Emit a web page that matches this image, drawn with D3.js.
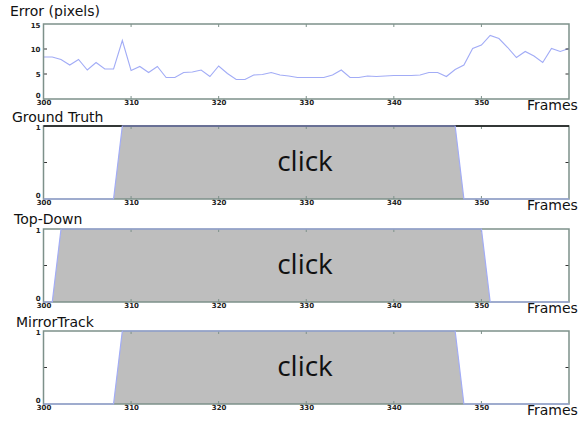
<!DOCTYPE html>
<html>
<head>
<meta charset="utf-8">
<script src="https://d3js.org/d3.v7.min.js"></script>
<style>
    body { margin:0; background:white; }
    .title { font-family:"DejaVu Sans"; font-size:14px; fill:#111; }
    .tick text { font-family:"DejaVu Sans"; font-size:7px; font-weight:bold; fill:#222; }
    .click { font-family:"Open Sans"; font-size:28px; fill:#111; text-anchor:middle; }
</style>
</head>
<body>
<script>
// error per frame, frames 300..360
var errFrames = d3.range(300, 361);
var errVals = [8.4, 8.4, 7.9, 6.8, 7.9, 5.8, 7.3, 6.0, 6.0, 11.7,
               5.7, 6.5, 5.3, 6.5, 4.3, 4.3, 5.3, 5.4, 5.8, 4.5,
               6.6, 5.1, 3.9, 3.9, 4.8, 4.9, 5.3, 4.8, 4.6, 4.3,
               4.3, 4.3, 4.3, 4.8, 5.8, 4.3, 4.3, 4.6, 4.5, 4.6,
               4.7, 4.7, 4.7, 4.8, 5.3, 5.3, 4.5, 5.9, 6.8, 10.1,
               10.8, 12.7, 12.1, 10.3, 8.3, 9.5, 8.6, 7.3, 10.1, 9.5, 10.1];
var errTicks = [0, 5, 10, 15];

// click state (keypoints)
var gtFrames = [300, 308, 309, 347, 348, 360];
var gtVals   = [0, 0, 1, 1, 0, 0];
var tdFrames = [300, 301, 302, 350, 351, 360];
var tdVals   = [0, 0, 1, 1, 0, 0];
var mtFrames = [300, 308, 309, 347, 348, 360];
var mtVals   = [0, 0, 1, 1, 0, 0];

var xTicks = [300, 310, 320, 330, 340, 350];
var titles = ["Error (pixels)", "Ground Truth", "Top-Down", "MirrorTrack"];

var W = 579, H = 422;
var svg = d3.select("body").append("svg").attr("width", W).attr("height", H);

var x = d3.scaleLinear().domain([300, 360]).range([43.5, 569]);
var lineCol = "#a2acf6", boxCol = "#7d918a";

var panels = [
    {top:24, bottom:99, tb:16, tx:10},
    {top:126, bottom:199, tb:122, tx:12},
    {top:229, bottom:302, tb:224, tx:14},
    {top:331, bottom:404, tb:327, tx:16}
];

function frame(g, y, yTickVals, yLabelVals, topCol) {
    // ticks inside
    var xIn = xTicks.filter(function(d){ return d > 300; });
    g.append("g").selectAll("line").data(xIn).enter().append("line")
        .attr("x1", x).attr("x2", x)
        .attr("y1", y.range()[1]).attr("y2", y.range()[1] + 3)
        .attr("stroke", boxCol).attr("stroke-width", 1);
    g.append("g").selectAll("line").data(xIn).enter().append("line")
        .attr("x1", x).attr("x2", x)
        .attr("y1", y.range()[0]).attr("y2", y.range()[0] - 3)
        .attr("stroke", boxCol).attr("stroke-width", 1);
    var yIn = yTickVals.filter(function(d){ return d > y.domain()[0] && d < y.domain()[1]; });
    g.append("g").selectAll("line").data(yIn).enter().append("line")
        .attr("x1", 43.5).attr("x2", 47).attr("y1", y).attr("y2", y)
        .attr("stroke", "#333").attr("stroke-width", 1);
    g.append("g").selectAll("line").data(yIn).enter().append("line")
        .attr("x1", 569).attr("x2", 565.5).attr("y1", y).attr("y2", y)
        .attr("stroke", "#333").attr("stroke-width", 1);

    g.append("rect")
        .attr("x", 43.5).attr("y", y.range()[1])
        .attr("width", 569 - 43.5).attr("height", y.range()[0] - y.range()[1])
        .attr("fill", "none").attr("stroke", boxCol).attr("stroke-width", 1.5);
    if (topCol) {
        g.append("line").attr("x1", 43.5).attr("x2", 569)
            .attr("y1", y.range()[1]).attr("y2", y.range()[1])
            .attr("stroke", topCol).attr("stroke-width", 1.5);
    }

    // labels
    var xa = g.append("g").attr("transform", "translate(0," + y.range()[0] + ")")
        .call(d3.axisBottom(x).tickValues(xTicks).tickSize(0).tickPadding(1).tickFormat(d3.format("d")));
    xa.select(".domain").remove();
    var ya = g.append("g").attr("transform", "translate(43.5,0)")
        .call(d3.axisLeft(y).tickValues(yLabelVals).tickSize(0).tickPadding(3).tickFormat(d3.format("d")));
    ya.select(".domain").remove();
    ya.selectAll(".tick text").attr("dy", function(d){
        if (d == y.domain()[0]) return "-0.2em";
        if (d == y.domain()[1]) return "0.5em";
        return "0.32em";
    });

    g.append("text").attr("class", "title")
        .attr("x", 527).attr("y", y.range()[0] + 11).text("Frames");
}

// panel 1: error line
var p = panels[0];
var y1 = d3.scaleLinear().domain([0, 15]).range([p.bottom, p.top]);
var g1 = svg.append("g");
g1.append("text").attr("class", "title").attr("x", p.tx).attr("y", p.tb).text(titles[0]);
g1.append("path")
    .datum(errFrames.map(function(f, i){ return [f, errVals[i]]; }))
    .attr("fill", "none").attr("stroke", lineCol).attr("stroke-width", 1.1)
    .attr("d", d3.line().x(function(d){ return x(d[0]); }).y(function(d){ return y1(d[1]); }));
frame(g1, y1, errTicks, errTicks, null);

// click panels
var series = [[gtFrames, gtVals], [tdFrames, tdVals], [mtFrames, mtVals]];
series.forEach(function(s, k) {
    var pp = panels[k + 1];
    var y = d3.scaleLinear().domain([0, 1]).range([pp.bottom, pp.top]);
    var g = svg.append("g");
    g.append("text").attr("class", "title").attr("x", pp.tx).attr("y", pp.tb).text(titles[k + 1]);
    var pts = s[0].map(function(f, i){ return [f, s[1][i]]; });
    g.append("path").datum(pts)
        .attr("fill", "#bebebe")
        .attr("d", d3.area().x(function(d){ return x(d[0]); }).y0(y(0)).y1(function(d){ return y(d[1]); }));
    frame(g, y, [0, 0.5, 1], [0, 1], k == 0 ? "#111" : null);
    g.append("path").datum(pts)
        .attr("fill", "none").attr("stroke", lineCol).attr("stroke-width", 1.2)
        .attr("d", d3.line().x(function(d){ return x(d[0]); }).y(function(d){ return y(d[1]); }));
    g.append("text").attr("class", "click")
        .attr("x", 305).attr("y", (pp.top + pp.bottom) / 2 + 8).text("click");
});
</script>
</body>
</html>
